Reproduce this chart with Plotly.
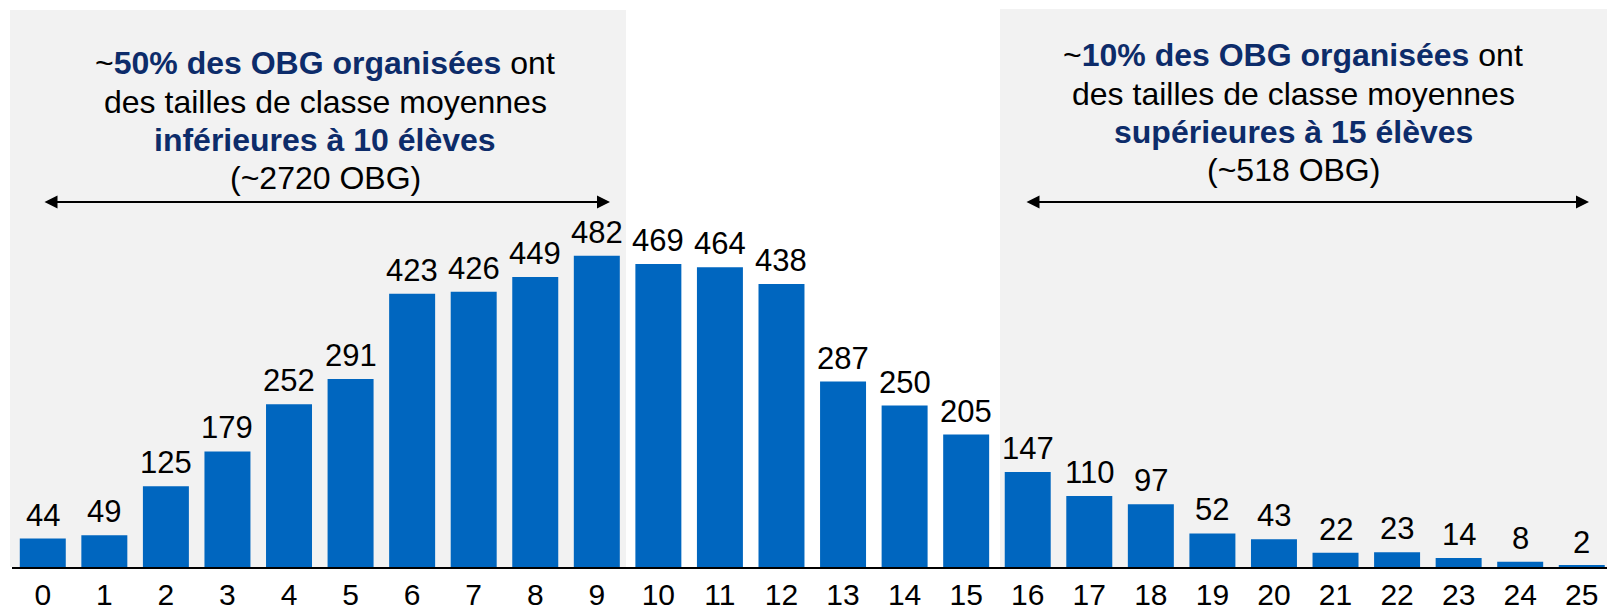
import plotly.graph_objects as go

# Average class size (élèves) per OBG, and number of OBG in each size bucket
class_sizes = list(range(26))
tick_labels = [str(c) for c in class_sizes]
obg_counts = [44, 49, 125, 179, 252, 291, 423, 426, 449, 482, 469, 464, 438,
              287, 250, 205, 147, 110, 97, 52, 43, 22, 23, 14, 8, 2]

W, H = 1607, 612
ML, MR, MT, MB = 12, 0, 0, 45
PW, PH = W - ML - MR, H - MT - MB

BAR = "#0066BF"
NAVY = "#0D2C6A"
GREY = "#F2F2F2"
FONT = "Liberation Sans, Arial, sans-serif"


def px(x):
    return (x - ML) / PW


def py(y):
    return (H - MB - y) / PH


fig = go.Figure(go.Bar(
    x=class_sizes,
    y=obg_counts,
    marker=dict(color=BAR, line=dict(width=0)),
    width=0.747,
))

# value labels above each bar
for c, v in zip(class_sizes, obg_counts):
    fig.add_annotation(x=c, y=v, xref="x", yref="y", text=str(v),
                       showarrow=False, xanchor="center", yanchor="bottom",
                       yshift=4, font=dict(family=FONT, size=31, color="black"))

# shaded panels behind the two tails of the distribution
fig.add_shape(type="rect", xref="paper", yref="paper", layer="below",
              x0=px(10), x1=px(626), y0=py(567), y1=py(10),
              fillcolor=GREY, line=dict(width=0))
fig.add_shape(type="rect", xref="paper", yref="paper", layer="below",
              x0=px(1000), x1=px(1607), y0=py(567), y1=py(9),
              fillcolor=GREY, line=dict(width=0))

hl = lambda s: f"<b><span style='color:{NAVY}'>{s}</span></b>"

left_lines = [
    "~" + hl("50% des OBG organisées") + " ont",
    "des tailles de classe moyennes",
    hl("inférieures à 10 élèves"),
    "(~2720 OBG)",
]
right_lines = [
    "~" + hl("10% des OBG organisées") + " ont",
    "des tailles de classe moyennes",
    hl("supérieures à 15 élèves"),
    "(~518 OBG)",
]
left_y = [63, 102, 140, 178]
right_y = [55, 94, 132, 170]

for txt, yy in zip(left_lines, left_y):
    fig.add_annotation(text=txt, xref="paper", yref="paper", x=px(325), y=py(yy),
                       xanchor="center", yanchor="middle", showarrow=False,
                       font=dict(family=FONT, size=32, color="black"))
for txt, yy in zip(right_lines, right_y):
    fig.add_annotation(text=txt, xref="paper", yref="paper", x=px(1293), y=py(yy),
                       xanchor="center", yanchor="middle", showarrow=False,
                       font=dict(family=FONT, size=32, color="black"))

# double-headed range arrows
for x0, x1 in [(43, 610), (1025, 1589)]:
    fig.add_annotation(text="", xref="paper", yref="paper", x=px(x1), y=py(202),
                       ax=-(x1 - x0), ay=0, axref="pixel", ayref="pixel",
                       showarrow=True, arrowhead=2, arrowside="end+start",
                       arrowsize=1.3, arrowwidth=2, arrowcolor="black",
                       standoff=0, startstandoff=0)

fig.update_layout(
    width=W, height=H,
    margin=dict(l=ML, r=MR, t=MT, b=MB, pad=0, autoexpand=False),
    paper_bgcolor="white", plot_bgcolor="rgba(0,0,0,0)",
    showlegend=False,
    font=dict(family=FONT, color="black"),
    xaxis=dict(range=[-0.5, 25.41], tickmode="array", tickvals=class_sizes,
               ticktext=tick_labels, showgrid=False, zeroline=False,
               showline=True, linecolor="black", linewidth=2,
               ticks="", ticklabelstandoff=0, automargin=False,
               tickfont=dict(family=FONT, size=30, color="black")),
    yaxis=dict(range=[0, 877.8], visible=False, showgrid=False, zeroline=False,
               automargin=False),
)

fig.write_html("out.html")
